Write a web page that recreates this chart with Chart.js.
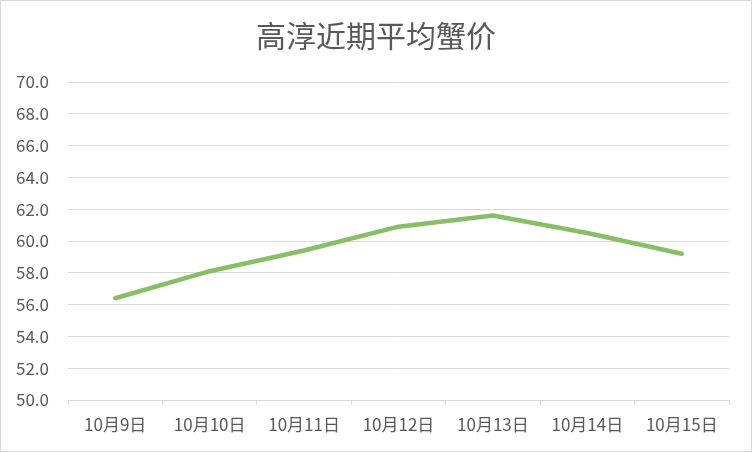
<!DOCTYPE html>
<html>
<head>
<meta charset="utf-8">
<script src="https://cdn.jsdelivr.net/npm/chart.js@4"></script>
<style>
  html, body { margin: 0; padding: 0; background: #ffffff; }
  #wrap { position: relative; width: 750px; height: 450px; border: 1px solid #d9d9d9; }
  canvas { display: block; }
</style>
</head>
<body>
<div id="wrap"><canvas id="c" width="750" height="450"></canvas></div>
<script>
const titleText = "高淳近期平均蟹价";
const categories = ["10月9日", "10月10日", "10月11日", "10月12日", "10月13日", "10月14日", "10月15日"];
const prices = [56.4, 58.1, 59.4, 60.9, 61.6, 60.5, 59.2];
const yMin = 50, yMax = 70, yStep = 2;

const FONT = "'Noto Sans CJK SC', 'Noto Sans', sans-serif";
const TEXT = "#595959";

new Chart(document.getElementById("c"), {
  type: "line",
  data: {
    labels: categories,
    datasets: [{
      data: prices,
      yAxisID: "y",
      borderColor: "#88BE65",
      borderWidth: 4.5,
      pointRadius: 0,
      pointHoverRadius: 0,
      tension: 0,
      fill: false,
      borderCapStyle: "round",
      borderJoinStyle: "round"
    }]
  },
  options: {
    responsive: false,
    animation: false,
    events: [],
    layout: { padding: { left: 0, right: 0, top: 0, bottom: 0 } },
    plugins: {
      legend: { display: false },
      tooltip: { enabled: false },
      title: {
        display: true,
        text: titleText,
        color: TEXT,
        font: { family: FONT, size: 30, weight: "normal", lineHeight: 1.2 },
        padding: { top: 17, bottom: 28 }
      }
    },
    scales: {
      x: {
        offset: true,
        grid: { display: true, offset: true, drawOnChartArea: false, drawTicks: true, tickLength: 5, color: "#d9d9d9", lineWidth: 1 },
        border: { display: true, color: "#d9d9d9", width: 1 },
        ticks: { color: TEXT, font: { family: FONT, size: 17 }, padding: 9, maxRotation: 0, autoSkip: false },
        afterFit: (s) => { s.height = 51; }
      },
      y: {
        position: "left",
        min: yMin, max: yMax,
        grid: { color: "#d9d9d9", lineWidth: 1, drawTicks: false },
        border: { display: false },
        ticks: {
          stepSize: yStep,
          color: TEXT,
          font: { family: FONT, size: 17 },
          padding: 19,
          callback: (v) => Number(v).toFixed(1)
        },
        afterFit: (s) => { s.width = 67; }
      },
      yRight: {
        axis: "y",
        position: "right",
        display: true,
        grid: { display: false, drawTicks: false },
        border: { display: false },
        ticks: { display: false },
        afterFit: (s) => { s.width = 22; }
      }
    }
  }
});
</script>
</body>
</html>
